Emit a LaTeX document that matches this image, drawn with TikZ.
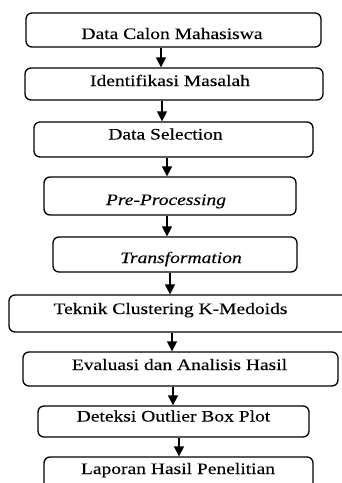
\documentclass[tikz,border=0pt]{standalone}
\usepackage{fontspec}
\setmainfont{Liberation Serif}[FakeStretch=1.22,FakeBold=0.15]
\usetikzlibrary{arrows.meta}
\begin{document}
\begin{tikzpicture}[x=1pt,y=-1pt,
  box/.style={draw=black, line width=1.3pt, rounded corners=6pt, inner sep=0pt, fill=white},
  lbl/.style={anchor=base, inner sep=0pt, font=\fontsize{16}{19}\selectfont, text=black},
  arr/.style={line width=1.5pt, -{Triangle[width=10pt,length=10pt]}}]
\useasboundingbox (0,0) rectangle (342,483);
\clip (0,0) rectangle (342,483);
\fill[white] (0,0) rectangle (342,483);
% boxes
\node[box, minimum width=295pt, minimum height=34pt] (b1) at (173.5,30) {};
\node[box, minimum width=298pt, minimum height=32pt] (b2) at (174,84) {};
\node[box, minimum width=279pt, minimum height=35pt] (b3) at (173.5,139.5) {};
\node[box, minimum width=252pt, minimum height=38pt] (b4) at (170,196) {};
\node[box, minimum width=244pt, minimum height=35pt] (b5) at (175,254.5) {};
\node[box, minimum width=346pt, minimum height=37pt] (b6) at (182,313.5) {};
\node[box, minimum width=315pt, minimum height=34pt] (b7) at (180.5,369) {};
\node[box, minimum width=271pt, minimum height=31pt] (b8) at (173.5,421.5) {};
\node[box, minimum width=269pt, minimum height=40pt] (b9) at (178.5,477) {};
% labels
\node[lbl] (t1) at (172,39) {Data Calon Mahasiswa};
\node[lbl] (t2) at (170,86) {Identifikasi Masalah};
\node[lbl] (t3) at (165.5,139.5) {Data Selection};
\node[lbl] (t4) at (166,205) {\itshape Pre-Processing};
\node[lbl] (t5) at (181,263) {\itshape Transformation};
\node[lbl] (t6) at (170.5,314) {Teknik Clustering K-Medoids};
\node[lbl] (t7) at (179.5,370) {Evaluasi dan Analisis Hasil};
\node[lbl] (t8) at (173.5,421.5) {Deteksi Outlier Box Plot};
\node[lbl] (t9) at (178,474) {Laporan Hasil Penelitian};
% arrow columns
\coordinate (a1) at (161,0);
\coordinate (a2) at (162,0);
\coordinate (a3) at (167,0);
\coordinate (a4) at (167,0);
\coordinate (a5) at (170,0);
\coordinate (a6) at (172,0);
\coordinate (a7) at (173,0);
\coordinate (a8) at (179,0);
\draw[arr] (b1.south -| a1) -- (b2.north -| a1);
\draw[arr] (b2.south -| a2) -- (b3.north -| a2);
\draw[arr] (b3.south -| a3) -- (b4.north -| a3);
\draw[arr] (b4.south -| a4) -- (b5.north -| a4);
\draw[arr] (b5.south -| a5) -- (b6.north -| a5);
\draw[arr] (b6.south -| a6) -- (b7.north -| a6);
\draw[arr] (b7.south -| a7) -- (b8.north -| a7);
\draw[arr] (b8.south -| a8) -- (b9.north -| a8);
\end{tikzpicture}
\end{document}
